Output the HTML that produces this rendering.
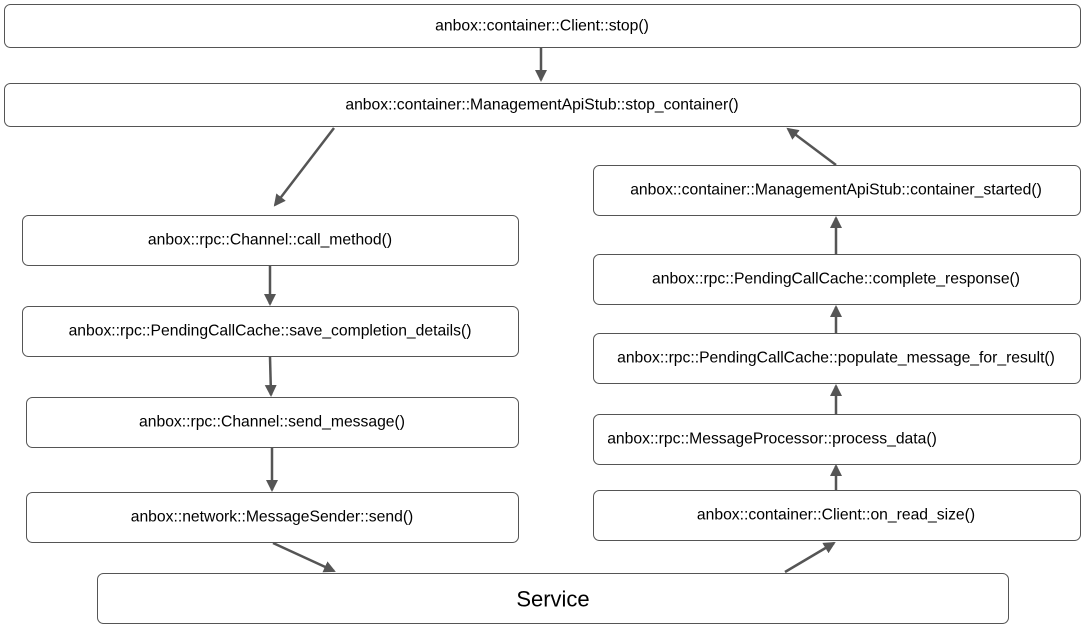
<!DOCTYPE html>
<html><head><meta charset="utf-8"><style>
html,body{margin:0;padding:0;background:#fff;}
svg text{font-family:"Liberation Sans",sans-serif;font-size:15.7px;fill:#000;text-anchor:middle;dominant-baseline:central;}
</style></head><body>
<svg width="1092" height="630" viewBox="0 0 1092 630" xmlns="http://www.w3.org/2000/svg">
<defs><marker id="a" markerWidth="12" markerHeight="12" refX="10" refY="6" orient="auto" markerUnits="userSpaceOnUse"><path d="M0,0 L12,6 L0,12 z" fill="#555"/></marker></defs>
<g fill="#fff" stroke="#555" stroke-width="1">
<rect x="4.5" y="4.5" width="1076" height="43" rx="6"/>
<rect x="4.5" y="83.5" width="1076" height="43" rx="6"/>
<rect x="22.5" y="215.5" width="496" height="50" rx="6"/>
<rect x="22.5" y="306.5" width="496" height="50" rx="6"/>
<rect x="26.5" y="397.5" width="492" height="50" rx="6"/>
<rect x="26.5" y="492.5" width="492" height="50" rx="6"/>
<rect x="593.5" y="165.5" width="487" height="50" rx="6"/>
<rect x="593.5" y="254.5" width="487" height="50" rx="6"/>
<rect x="593.5" y="333.5" width="487" height="50" rx="6"/>
<rect x="593.5" y="414.5" width="487" height="50" rx="6"/>
<rect x="593.5" y="490.5" width="487" height="50" rx="6"/>
<rect x="97.5" y="573.5" width="911" height="50" rx="6"/>
</g>
<g stroke="#555" stroke-width="2.5" marker-end="url(#a)">
<line x1="541" y1="48" x2="541" y2="80"/>
<line x1="334" y1="128" x2="275" y2="205"/>
<line x1="270" y1="266" x2="270" y2="304"/>
<line x1="270" y1="357" x2="271" y2="395"/>
<line x1="272" y1="448" x2="272" y2="490"/>
<line x1="273" y1="543" x2="334" y2="571"/>
<line x1="785" y1="572" x2="834" y2="543"/>
<line x1="836" y1="490" x2="836" y2="466"/>
<line x1="836" y1="414" x2="836" y2="386"/>
<line x1="836" y1="333" x2="836" y2="307"/>
<line x1="836" y1="254" x2="836" y2="218"/>
<line x1="836" y1="165" x2="788" y2="129"/>
</g>
<text x="542" y="26">anbox::container::Client::stop()</text>
<text x="542" y="105">anbox::container::ManagementApiStub::stop_container()</text>
<text x="270" y="240">anbox::rpc::Channel::call_method()</text>
<text x="270" y="331">anbox::rpc::PendingCallCache::save_completion_details()</text>
<text x="272" y="422">anbox::rpc::Channel::send_message()</text>
<text x="272" y="517">anbox::network::MessageSender::send()</text>
<text x="836" y="190">anbox::container::ManagementApiStub::container_started()</text>
<text x="836" y="279">anbox::rpc::PendingCallCache::complete_response()</text>
<text x="836" y="358">anbox::rpc::PendingCallCache::populate_message_for_result()</text>
<text x="772" y="439">anbox::rpc::MessageProcessor::process_data()</text>
<text x="836" y="515">anbox::container::Client::on_read_size()</text>
<text x="553" y="599" style="font-size:22px">Service</text>
</svg>
</body></html>
